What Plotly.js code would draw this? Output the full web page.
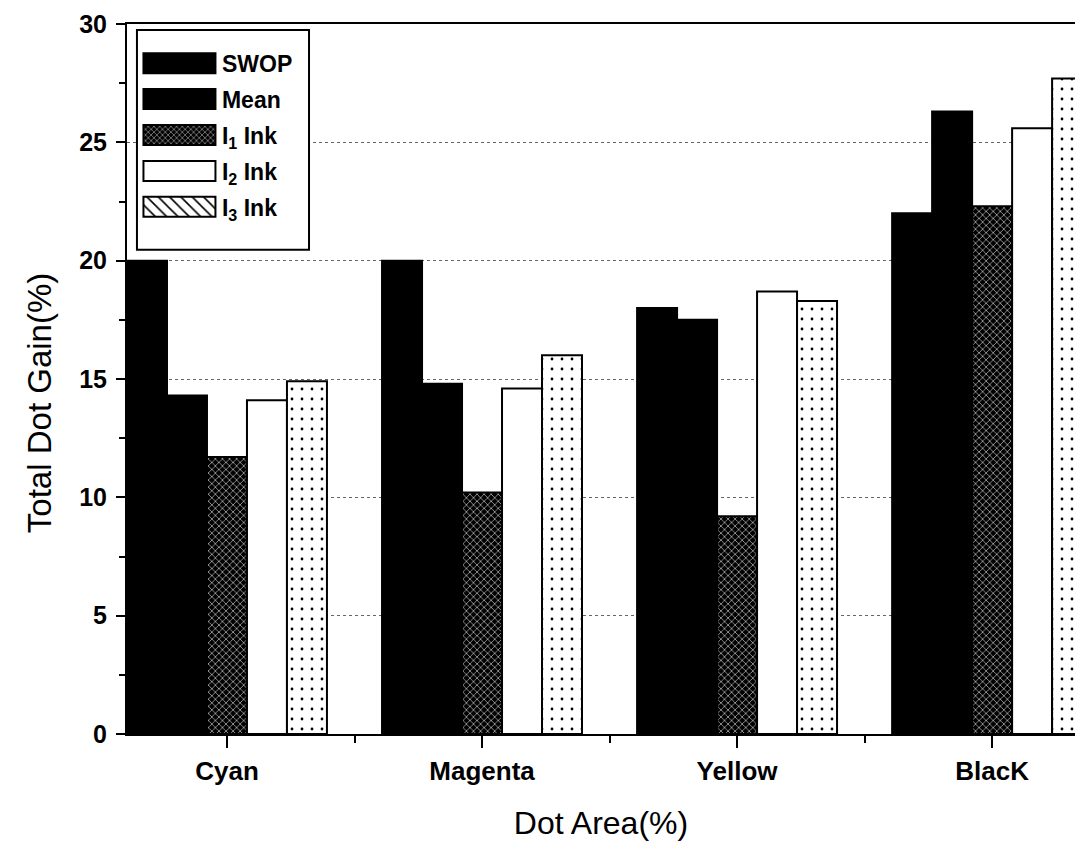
<!DOCTYPE html>
<html>
<head>
<meta charset="utf-8">
<script src="https://cdn.plot.ly/plotly-3.0.1.min.js"></script>
<style>html,body{margin:0;padding:0;background:#fff;}#chart{width:1075px;height:847px;}</style>
</head>
<body>
<div id="chart"></div>
<script>
const categories = ["Cyan", "Magenta", "Yellow", "BlacK"];
const swop  = [20.0, 20.0, 18.0, 22.0];
const mean  = [14.3, 14.8, 17.5, 26.3];
const ink1  = [11.7, 10.2, 9.2, 22.3];
const ink2  = [14.1, 14.6, 18.7, 25.6];
const ink3  = [14.9, 16.0, 18.3, 27.7];
const yTicks = [0, 5, 10, 15, 20, 25, 30];

const xs = categories.map((c, i) => i);
const line = {color: '#000', width: 2};
const font = 'Liberation Sans, Arial, sans-serif';

const traces = [
  {type: 'bar', name: 'SWOP', x: xs, y: swop, offsetgroup: 'a', legendgroup: 'a',
   marker: {color: '#000', line: line}},
  {type: 'bar', name: 'Mean', x: xs, y: mean, offsetgroup: 'b', legendgroup: 'b',
   marker: {color: '#000', line: line}},
  {type: 'bar', name: 'I<sub>1</sub> Ink', x: xs, y: ink1, offsetgroup: 'c', legendgroup: 'c',
   marker: {color: '#000', line: line,
            pattern: {shape: 'x', bgcolor: '#000', fgcolor: '#fff', size: 5, solidity: 0.2}}},
  {type: 'bar', name: 'I<sub>2</sub> Ink', x: xs, y: ink2, offsetgroup: 'd', legendgroup: 'd',
   marker: {color: '#fff', line: line}},
  {type: 'bar', name: 'I<sub>3</sub> Ink', x: xs, y: ink3, offsetgroup: 'e', legendgroup: 'e',
   showlegend: false,
   marker: {color: '#fff', line: line,
            pattern: {shape: '.', bgcolor: '#fff', fgcolor: '#000', size: 10, solidity: 0.06}}},
  // legend-only swatch for I3 (hatched, as in the original key); no bars drawn
  {type: 'bar', name: 'I<sub>3</sub> Ink', x: xs, y: ink3.map(() => null), offsetgroup: 'e', legendgroup: 'e',
   marker: {color: '#fff', line: line,
            pattern: {shape: '\\', bgcolor: '#fff', fgcolor: '#000', size: 12, solidity: 0.2}}}
];

const layout = {
  width: 1075, height: 847,
  margin: {l: 127, r: 0, t: 24, b: 113},
  paper_bgcolor: '#fff', plot_bgcolor: '#fff',
  barmode: 'group', bargap: 0.216, bargroupgap: 0,
  font: {family: font, color: '#000'},
  showlegend: true,
  legend: {x: 0.0105, y: 0.975, xanchor: 'left', yanchor: 'top',
           bgcolor: 'rgba(0,0,0,0)', borderwidth: 0,
           font: {family: font, size: 23, weight: 'bold', color: '#000'},
           traceorder: 'grouped', tracegroupgap: 3, itemwidth: 75},
  shapes: [{type: 'rect', xref: 'paper', yref: 'paper', layer: 'above',
            x0: 0.0105, x1: 0.192, y0: 0.682, y1: 0.9915,
            fillcolor: '#fff', line: {color: '#000', width: 2}}],
  annotations: [{text: 'Total Dot Gain(%)', xref: 'paper', yref: 'paper',
                 x: -0.0928, y: 0.466, textangle: -90, showarrow: false,
                 xanchor: 'center', yanchor: 'middle',
                 font: {family: font, size: 33, color: '#000'}}],
  xaxis: {range: [-0.392, 3.325], tickmode: 'array', tickvals: xs, ticktext: categories,
          showline: true, linecolor: '#000', linewidth: 2, mirror: true,
          ticks: 'outside', ticklen: 12, tickwidth: 2, tickcolor: '#000',
          ticklabelstandoff: 1,
          minor: {dtick: 0.5, tick0: 0.5, ticks: 'outside', ticklen: 7, tickwidth: 2, tickcolor: '#000'},
          showgrid: false, zeroline: false,
          tickfont: {family: font, size: 26, weight: 'bold'},
          title: {text: 'Dot Area(%)', font: {family: font, size: 32}, standoff: 26}},
  yaxis: {range: [0, 30], tickmode: 'array', tickvals: yTicks,
          showline: true, linecolor: '#000', linewidth: 2,
          ticks: 'outside', ticklen: 9, tickwidth: 2, tickcolor: '#000',
          ticklabelstandoff: 4,
          minor: {dtick: 2.5, ticks: 'outside', ticklen: 6, tickwidth: 2, tickcolor: '#000', showgrid: false},
          showgrid: true, gridcolor: '#666', griddash: 'dot', gridwidth: 1,
          zeroline: false,
          tickfont: {family: font, size: 25, weight: 'bold'}}
};

Plotly.newPlot('chart', traces, layout, {displayModeBar: false, staticPlot: true}).then(function () {
  document.querySelectorAll('.legend .legendpoints path').forEach(function (p) {
    p.setAttribute('d', 'M-36,10H36V-10H-36Z');
  });
});
</script>
</body>
</html>
